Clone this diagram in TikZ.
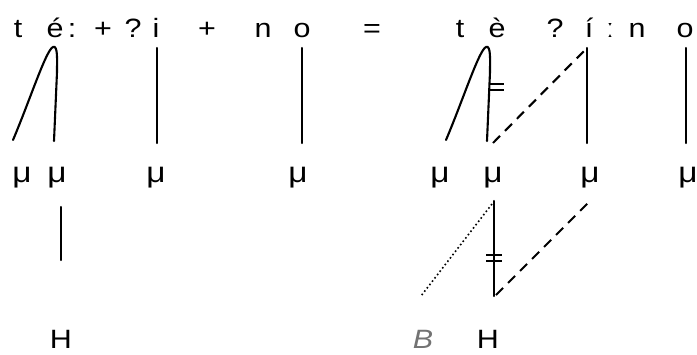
\documentclass[tikz,border=0pt]{standalone}
\usepackage{fontspec}
\setmainfont{Liberation Sans}[FakeStretch=1.15]
\begin{document}
\begin{tikzpicture}[x=1pt,y=-1pt,
  txt/.style={anchor=base,inner sep=0pt,font=\fontsize{26.5}{30}\selectfont},
  mu/.style={anchor=base,inner sep=0pt,font=\fontsize{29}{32}\selectfont},
  ln/.style={line width=2.1pt,line cap=round},
  dsh/.style={line width=2.1pt,dash pattern=on 10pt off 7pt},
  dot/.style={line width=1.6pt,dash pattern=on 1.6pt off 2.6pt}]
\useasboundingbox (0,0) rectangle (697,354);
% top row, left
\node[txt] (t1) at (18,37) {t};
\node[txt] (e1) at (55,37) {é};
\node[txt] (c1) at (72,37) {:};
\node[txt] (p1) at (103,37) {+};
\node[txt] (q1) at (133,37) {?};
\node[txt] (i1) at (156,37) {i};
\node[txt] (p2) at (207,37) {+};
\node[txt] (n1) at (263,37) {n};
\node[txt] (o1) at (302,37) {o};
\node[txt] (eq) at (372,37) {=};
% top row, right
\node[txt] (t2) at (460,37) {t};
\node[txt] (e2) at (497,37) {è};
\node[txt] (q2) at (555,37) {?};
\node[txt] (i2) at (589,37) {í};
\node[txt] (c2) at (610,37) {ː};
\node[txt] (n2) at (637,37) {n};
\node[txt] (o2) at (685,37) {o};
% mora row
\node[mu] (m1) at (22,182) {μ};
\node[mu] (m2) at (57,182) {μ};
\node[mu] (m3) at (156,182) {μ};
\node[mu] (m4) at (298,182) {μ};
\node[mu] (m5) at (440,182) {μ};
\node[mu] (m6) at (493,182) {μ};
\node[mu] (m7) at (590,182) {μ};
\node[mu] (m8) at (688,182) {μ};
% tone row
\node[txt] (h1) at (61,348) {H};
\node[txt,text=black!55,font=\fontsize{26.5}{30}\selectfont\itshape] (b2) at (423,348) {B};
\node[txt] (h2) at (488,348) {H};
% end points
\coordinate (la) at (13,140);
\coordinate (lb) at (54,141);
\coordinate (i1t) at (157,48);
\coordinate (i1b) at (157,143);
\coordinate (o1t) at (302,48);
\coordinate (o1b) at (302,143);
\coordinate (h1t) at (61,207);
\coordinate (h1b) at (61,260);
\coordinate (ra) at (446,140);
\coordinate (rb) at (487,141);
\coordinate (dsa) at (493,143);
\coordinate (dsb) at (585,50);
\coordinate (i2t) at (587,48);
\coordinate (i2b) at (587,143);
\coordinate (o2t) at (686,48);
\coordinate (o2b) at (686,143);
\coordinate (vt) at (494,201);
\coordinate (vb) at (494,296);
\coordinate (dta) at (492,204);
\coordinate (dtb) at (421,296);
\coordinate (dsc) at (496,295);
\coordinate (dsd) at (590,201);
% left connectors
\draw[ln] (la) .. controls (30,100) and (46,50) .. (53,47)
  .. controls (58,45) and (57,60) .. (57,72) -- (lb);
\draw[ln] (i1t) -- (i1b);
\draw[ln] (o1t) -- (o1b);
\draw[ln] (h1t) -- (h1b);
% right connectors
\draw[ln] (ra) .. controls (463,100) and (479,50) .. (486,47)
  .. controls (491,45) and (490,60) .. (490,72) -- (rb);
\draw[line width=1.6pt] (490,84) -- (504,84) (490,90) -- (504,90);
\draw[dsh] (dsa) -- (dsb);
\draw[ln] (i2t) -- (i2b);
\draw[ln] (o2t) -- (o2b);
\draw[ln] (vt) -- (vb);
\draw[dot] (dta) -- (dtb);
\draw[dsh] (dsc) -- (dsd);
\draw[line width=1.6pt] (486,255) -- (502,255) (486,261) -- (502,261);
\end{tikzpicture}
\end{document}
